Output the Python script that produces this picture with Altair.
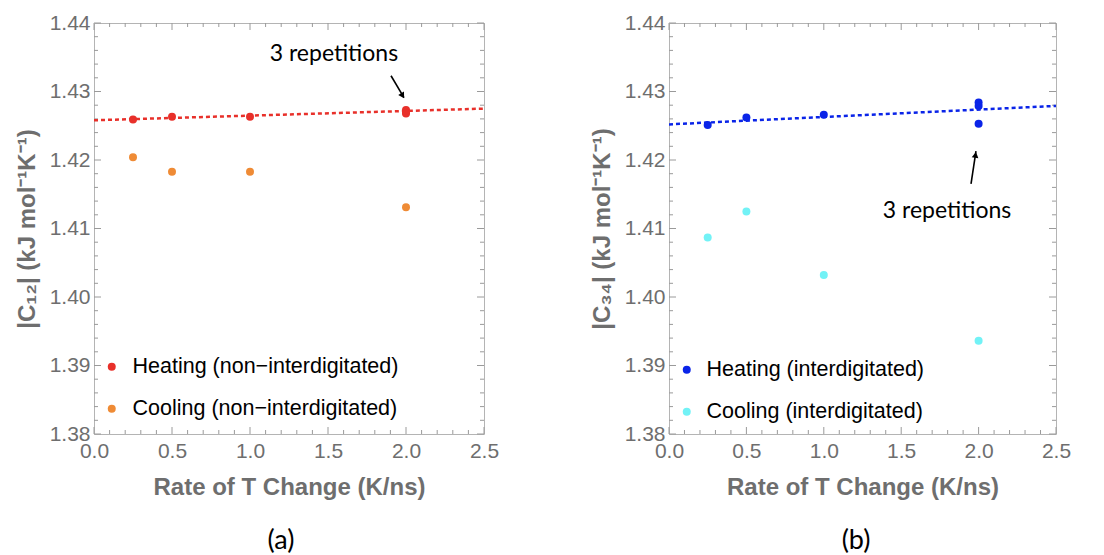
import altair as alt
import pandas as pd

# ---------------- data ----------------
heat_rates = [0.25, 0.5, 1.0, 2.0, 2.0, 2.0]
cool_rates = [0.25, 0.5, 1.0, 2.0]

heat_a = [1.4259, 1.4263, 1.4263, 1.4273, 1.4270, 1.4268]
cool_a = [1.4204, 1.4183, 1.4183, 1.4131]
heat_b = [1.4251, 1.4262, 1.4266, 1.4284, 1.4279, 1.4253]
cool_b = [1.4087, 1.4125, 1.4032, 1.3936]

fit_x = [0.0, 2.5]
fit_a = [1.4258, 1.4275]
fit_b = [1.4252, 1.4279]

names_a = ["Heating (non\u2212interdigitated)", "Cooling (non\u2212interdigitated)"]
names_b = ["Heating (interdigitated)", "Cooling (interdigitated)"]
colors_a = ["#e8302a", "#ef8b35"]
colors_b = ["#0a24e8", "#72f2f6"]

ytitle_a = "|C\u2081\u2082| (kJ mol\u207b\u00b9K\u207b\u00b9)"
ytitle_b = "|C\u2083\u2084| (kJ mol\u207b\u00b9K\u207b\u00b9)"
xtitle = "Rate of T Change (K/ns)"

x_major = [0.0, 0.5, 1.0, 1.5, 2.0, 2.5]
x_minor = [0.1, 0.2, 0.3, 0.4, 0.6, 0.7, 0.8, 0.9, 1.1, 1.2, 1.3, 1.4,
           1.6, 1.7, 1.8, 1.9, 2.1, 2.2, 2.3, 2.4]
y_major = [1.38, 1.39, 1.40, 1.41, 1.42, 1.43, 1.44]
y_minor = [1.382, 1.384, 1.386, 1.388, 1.392, 1.394, 1.396, 1.398,
           1.402, 1.404, 1.406, 1.408, 1.412, 1.414, 1.416, 1.418,
           1.422, 1.424, 1.426, 1.428, 1.432, 1.434, 1.436, 1.438]

# annotation anchors (data units)
note_a = {"x": 1.538, "y": 1.4355}
arrow_a = {"x": 1.904, "y": 1.4323, "x2": 1.987, "y2": 1.4291, "hx": 1.975, "hy": 1.4295, "angle": 149}
note_b = {"x": 1.796, "y": 1.4126}
arrow_b = {"x": 1.951, "y": 1.4165, "x2": 1.983, "y2": 1.4213, "hx": 1.979, "hy": 1.4206, "angle": 9}

W_A, W_B, H = 390, 387, 411
GRAY_TICK = "#9a9a9a"

XS = alt.Scale(domain=[0, 2.5], nice=False, zero=False)
YS = alt.Scale(domain=[1.38, 1.44], nice=False, zero=False)
XAXIS = alt.Axis(values=x_major, format=".1f", labelPadding=6, titlePadding=14)
YAXIS = alt.Axis(values=y_major, format=".2f", labelPadding=4, titlePadding=10)


def X(field):
    return alt.X(field, type="quantitative", scale=XS, title=xtitle, axis=XAXIS)


def make_Y(ytitle):
    def Y(field):
        return alt.Y(field, type="quantitative", scale=YS, title=ytitle, axis=YAXIS)
    return Y


def tick_layers(Y, width):
    layers = []
    for vals, ln in ((x_major, 7), (x_minor, 4)):
        d = pd.DataFrame({"t": vals})
        layers.append(alt.Chart(d).mark_rule(color=GRAY_TICK, strokeWidth=1).encode(
            x=X("t"), y=alt.value(H), y2=alt.value(H - ln)))
        layers.append(alt.Chart(d).mark_rule(color=GRAY_TICK, strokeWidth=1).encode(
            x=X("t"), y=alt.value(0), y2=alt.value(ln)))
    for vals, ln in ((y_major, 7), (y_minor, 4)):
        d = pd.DataFrame({"t": vals})
        layers.append(alt.Chart(d).mark_rule(color=GRAY_TICK, strokeWidth=1).encode(
            y=Y("t"), x=alt.value(0), x2=alt.value(ln)))
        layers.append(alt.Chart(d).mark_rule(color=GRAY_TICK, strokeWidth=1).encode(
            y=Y("t"), x=alt.value(width), x2=alt.value(width - ln)))
    return layers


def panel(heat, cool, fit, names, colors, ytitle, note, arrow, label, width, leg):
    Y = make_Y(ytitle)
    pts = pd.DataFrame({
        "rate": heat_rates + cool_rates,
        "val": heat + cool,
        "series": [names[0]] * len(heat) + [names[1]] * len(cool),
    })
    points = alt.Chart(pts).mark_circle(size=64, opacity=1).encode(
        x=X("rate"), y=Y("val"),
        color=alt.Color("series:N", scale=alt.Scale(domain=names, range=colors),
                        legend=alt.Legend(orient="none", legendX=leg[0], legendY=leg[1],
                                          title=None, symbolType="circle", symbolSize=64,
                                          symbolStrokeWidth=0, labelFontSize=21.5,
                                          labelFont="Liberation Sans", labelColor="black",
                                          labelOffset=leg[2], rowPadding=19, padding=0,
                                          labelLimit=500)),
    )

    fitdf = pd.DataFrame({"x": fit_x, "y": fit})
    line = alt.Chart(fitdf).mark_line(color=colors[0], strokeWidth=2.5,
                                      strokeDash=[4, 3], clip=True).encode(
        x=X("x"), y=Y("y"))

    notedf = pd.DataFrame([{**note, "t": "3 repetitions"}])
    text = alt.Chart(notedf).mark_text(font="Lato", fontSize=23, color="black").encode(
        x=X("x"), y=Y("y"), text="t:N")

    adf = pd.DataFrame([arrow])
    shaft = alt.Chart(adf).mark_rule(color="black", strokeWidth=1.6).encode(
        x=X("x"), y=Y("y"), x2="x2:Q", y2="y2:Q")
    head = alt.Chart(adf).mark_point(shape="triangle", filled=True, color="black",
                                     size=45, opacity=1).encode(
        x=X("hx"), y=Y("hy"),
        angle=alt.Angle("angle:Q", scale=None))

    lab = alt.Chart(pd.DataFrame({"l": [label]})).mark_text(
        font="Lato", fontSize=27, color="black").encode(
        text="l:N", x=alt.value(187), y=alt.value(518))

    return alt.layer(points, *tick_layers(Y, width), line, text, shaft, head, lab).properties(
        width=width, height=H)


left = panel(heat_a, cool_a, fit_a, names_a, colors_a, ytitle_a, note_a, arrow_a, "(a)", W_A, (7, 333, 10))
right = panel(heat_b, cool_b, fit_b, names_b, colors_b, ytitle_b, note_b, arrow_b, "(b)", W_B, (7, 336, 9))

chart = alt.hconcat(left, right, spacing=185, bounds="flush").resolve_scale(
    color="independent").properties(
    padding={"left": 14, "top": 11, "right": 5, "bottom": 5}, background="white"
).configure_view(stroke="#b4b4b4", strokeWidth=1).configure_axis(
    labelFont="Liberation Sans", labelFontSize=21, labelColor="#6e6e6e",
    titleFont="Liberation Sans", titleFontSize=24, titleFontWeight="bold",
    titleColor="#6e6e6e", grid=False, domain=False, ticks=False, labelFlush=False,
    labelOverlap=False)

chart.save("out.html", embed_options={"renderer": "svg", "actions": False})
